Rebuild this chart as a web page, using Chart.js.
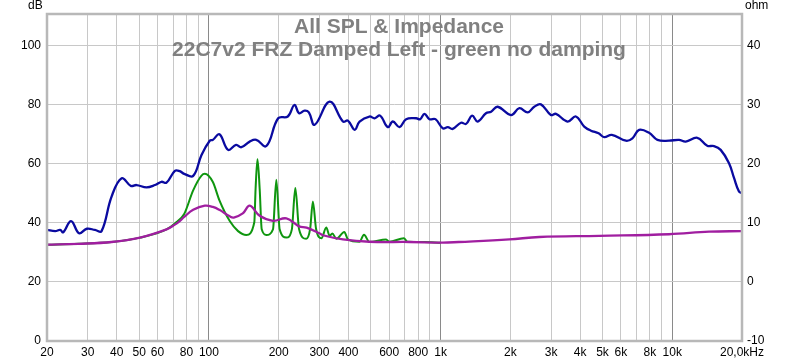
<!DOCTYPE html>
<html>
<head>
<meta charset="utf-8">
<script src="https://cdn.jsdelivr.net/npm/chart.js@4/dist/chart.umd.min.js"></script>
<style>
html,body{margin:0;padding:0;background:#fff;}
canvas{display:block;}
</style>
</head>
<body>
<canvas id="c" width="800" height="362"></canvas>
<script>
// ---- Data ----
const titleLines = ["All SPL & Impedance", "22C7v2 FRZ Damped Left - green no damping"];

// SPL (dB, left axis) - blue
const splFreq = [20,21.7,22.8,23.5,25.4,27.5,29.7,32.2,34.4,38,42,46,48.7,53.8,58.5,62.4,65.6,71.3,74.8,78.2,85.5,92.9,100.8,104,111,121,131,138,150,160,177,199,219,234,245,259,270,286,332,379,398,426,447,493,519,548,592,622,665,710,785,816,852,895,950,1022,1074,1128,1225,1288,1368,1445,1570,1652,1763,2014,2188,2377,2537,2710,2992,3148,3532,3837,4168,4457,4808,5084,5484,6310,6730,7194,7943,8630,9683,10690,11430,12820,14160,15140,16180,17580,18490,19410,20000];
const splDb   = [37.6,37.2,37.6,36.8,40.6,36.5,38.0,37.6,37.2,48.9,55.1,52.5,52.8,52.0,52.8,53.9,53.6,57.6,57.5,56.6,55.9,63.0,67.8,68.1,70.0,64.7,66.4,65.6,67.5,68.1,66.0,75.4,76.0,79.9,77.1,78.0,77.4,73.2,81.0,74.3,74.6,71.5,74.3,76.0,75.4,76.3,72.4,74.3,72.4,75.1,75.4,75.1,76.9,75.1,75.1,72.0,72.4,71.8,73.9,73.5,76.3,74.3,77.1,77.6,79.3,76.5,78.8,77.4,79.3,80.1,76.5,76.9,74.3,76.0,72.6,71.2,70.3,69.0,69.8,67.8,68.6,71.5,70.5,68.1,67.8,68.1,67.5,68.8,66.1,66.0,64.7,60.2,55.1,50.6,50.0];

// Impedance without damping (ohm, right axis) - green
const zRawFreq = [20,27.3,38,50.4,65.6,71.3,78.2,85.5,92.9,96,104,111,123,133.6,145,157,159,162,165.6,169,177,189,195.4,202,216,228,236,245,263,273.5,281,290,306,321,332,341,355,384,398,447,467,493,582,601,694,720,850,1000];
const zRawOhm  = [6.3,6.45,6.76,7.5,8.9,9.9,11.5,15.5,18.0,18.3,16.9,13.8,10.3,8.6,7.95,10.1,15.75,20.75,15.75,8.9,7.95,8.9,17.3,8.9,7.5,8.9,15.9,8.9,7.3,9.0,13.6,9.0,7.4,9.2,7.8,8.2,7.3,8.46,7.2,6.8,8.0,6.76,7.2,6.8,7.4,6.8,6.75,6.65];

// Impedance with damping (ohm, right axis) - purple
const zDampFreq = [20,27.3,38,50.4,65.6,71.3,74.8,78.2,85.5,96,104,111,123,128,140,150,165.6,189,216,245,264,300,310,379,493,734,1022,1197,1980,2668,4840,9683,14420,20000];
const zDampOhm  = [6.3,6.45,6.76,7.5,8.9,9.7,10.3,11.0,12.2,12.9,12.7,12.2,11.1,10.9,11.6,12.9,11.2,10.35,10.75,9.4,9.2,8.24,7.9,7.2,6.8,6.76,6.65,6.76,7.2,7.6,7.8,8.07,8.5,8.6];

// Axis ticks
const freqTicks = [20,30,40,50,60,70,80,90,100,200,300,400,500,600,700,800,900,1000,2000,3000,4000,5000,6000,7000,8000,9000,10000,20000];
const freqTickLabels = {20:"20",30:"30",40:"40",50:"50",60:"60",80:"80",100:"100",200:"200",300:"300",400:"400",600:"600",800:"800",1000:"1k",2000:"2k",3000:"3k",4000:"4k",5000:"5k",6000:"6k",8000:"8k",10000:"10k",20000:"20,0kHz"};
const dbTicks = [0,20,40,60,80,100];
const ohmTicks = [-10,0,10,20,30,40];

const pts = (xs, ys) => xs.map((x,i)=>({x:x, y:ys[i]}));

const frame = {
  id:'frame',
  afterDraw(chart){
    const {ctx, chartArea:a} = chart;
    ctx.save();
    ctx.strokeStyle = '#b8b8b8';
    ctx.lineWidth = 2.5;
    ctx.strokeRect(a.left, a.top, a.right-a.left, a.bottom-a.top);
    ctx.fillStyle = '#808080';
    ctx.font = 'bold 21px "Liberation Sans", Arial, sans-serif';
    ctx.textAlign = 'center';
    ctx.textBaseline = 'alphabetic';
    ctx.fillText(titleLines[0], 399, 33);
    ctx.fillText(titleLines[1], 399, 56);
    ctx.fillStyle = '#000';
    ctx.font = '12px "Liberation Sans", Arial, sans-serif';
    ctx.textAlign = 'left';
    ctx.fillText('dB', 28, 9);
    ctx.fillText('ohm', 745, 9);
    ctx.restore();
  }
};

new Chart(document.getElementById('c'), {
  type:'line',
  data:{
    datasets:[
      {data:pts(splFreq, splDb), yAxisID:'yL', borderColor:'#0a0aa0', borderWidth:2.3, tension:0.4, order:1},
      {data:pts(zDampFreq, zDampOhm), yAxisID:'yR', borderColor:'#a01ea0', borderWidth:2.3, tension:0.4, order:2},
      {data:pts(zRawFreq, zRawOhm), yAxisID:'yR', borderColor:'#0f960f', borderWidth:2, cubicInterpolationMode:'monotone', order:3}
    ]
  },
  options:{
    responsive:false,
    animation:false,
    devicePixelRatio:1,
    elements:{point:{radius:0}, line:{fill:false}},
    layout:{padding:{top:14,left:0,right:0,bottom:0}},
    plugins:{legend:{display:false}, tooltip:{enabled:false}, title:{display:false}},
    scales:{
      x:{
        type:'logarithmic', min:20, max:20000, position:'bottom',
        afterBuildTicks(s){ s.ticks = freqTicks.map(v=>({value:v})); },
        afterFit(s){ s.height = 21; },
        border:{display:false},
        grid:{drawTicks:false, lineWidth:1, color:(c)=>{const v=c.tick&&c.tick.value; return (v===100||v===1000||v===10000)?'#8a8a8a':'#c8c8c8';}},
        ticks:{autoSkip:false, maxRotation:0, padding:4, color:'#000', font:{family:'"Liberation Sans", Arial, sans-serif', size:12},
          callback:(v)=> freqTickLabels[v] !== undefined ? freqTickLabels[v] : ''}
      },
      yL:{
        type:'linear', position:'left', min:0, max:110.7,
        afterBuildTicks(s){ s.ticks = dbTicks.map(v=>({value:v})); },
        afterFit(s){ s.width = 47; },
        border:{display:false},
        grid:{drawTicks:false, color:'#c8c8c8'},
        ticks:{padding:6, color:'#000', font:{family:'"Liberation Sans", Arial, sans-serif', size:12}}
      },
      yR:{
        type:'linear', position:'right', min:-10, max:45.35,
        afterBuildTicks(s){ s.ticks = ohmTicks.map(v=>({value:v})); },
        afterFit(s){ s.width = 58; },
        border:{display:false},
        grid:{display:false, drawTicks:false},
        ticks:{padding:5, color:'#000', font:{family:'"Liberation Sans", Arial, sans-serif', size:12}}
      }
    }
  },
  plugins:[frame]
});
</script>
</body>
</html>
